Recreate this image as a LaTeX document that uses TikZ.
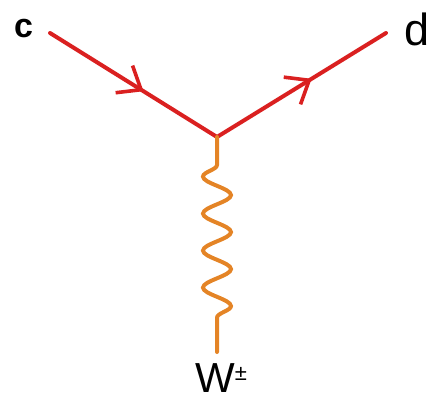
\documentclass[tikz,border=0pt]{standalone}
\usepackage{fontspec}
\setmainfont{Liberation Sans}
\usetikzlibrary{arrows.meta,decorations.markings,decorations.pathmorphing}
\definecolor{quarkred}{RGB}{218,32,32}
\definecolor{bosonorange}{RGB}{228,132,38}
\tikzset{
    quark/.style={draw=quarkred, line width=4pt, line cap=round,
                  decoration={markings, mark=at position 0.56 with
                  {\arrow[quarkred]{Straight Barb[length=20pt, width=32pt, line width=3.6pt]}}},
                  postaction={decorate}},
    wboson/.style={draw=bosonorange, line width=4pt, line cap=round,
                   decorate, decoration={snake, mirror, segment length=37pt,
                   amplitude=14pt, pre length=28pt, post length=22pt}},
    label/.style={anchor=base west, inner sep=0pt, text=black},
}

\begin{document}
\begin{tikzpicture}[x=1pt, y=-1pt]
    \useasboundingbox (0,0) rectangle (429,402);

    \coordinate (cin) at (50,33);
    \coordinate (vtx) at (217,137);
    \coordinate (dout) at (386,33);
    \coordinate (wend) at (217,352);

    \node[label, font=\fontsize{34}{34}\selectfont\bfseries] (clab) at (14,37) {c};
    \node[label, font=\fontsize{45}{45}\selectfont] (dlab) at (404,45) {d};
    \node[label, font=\fontsize{42}{42}\selectfont] (wlab) at (195,392) {W\raisebox{0.28em}{\fontsize{22}{22}\selectfont ±}};

    \draw[quark] (cin) -- (vtx);
    \draw[quark] (vtx) -- (dout);
    \draw[wboson] (vtx) -- (wend);

\end{tikzpicture}
\end{document}
